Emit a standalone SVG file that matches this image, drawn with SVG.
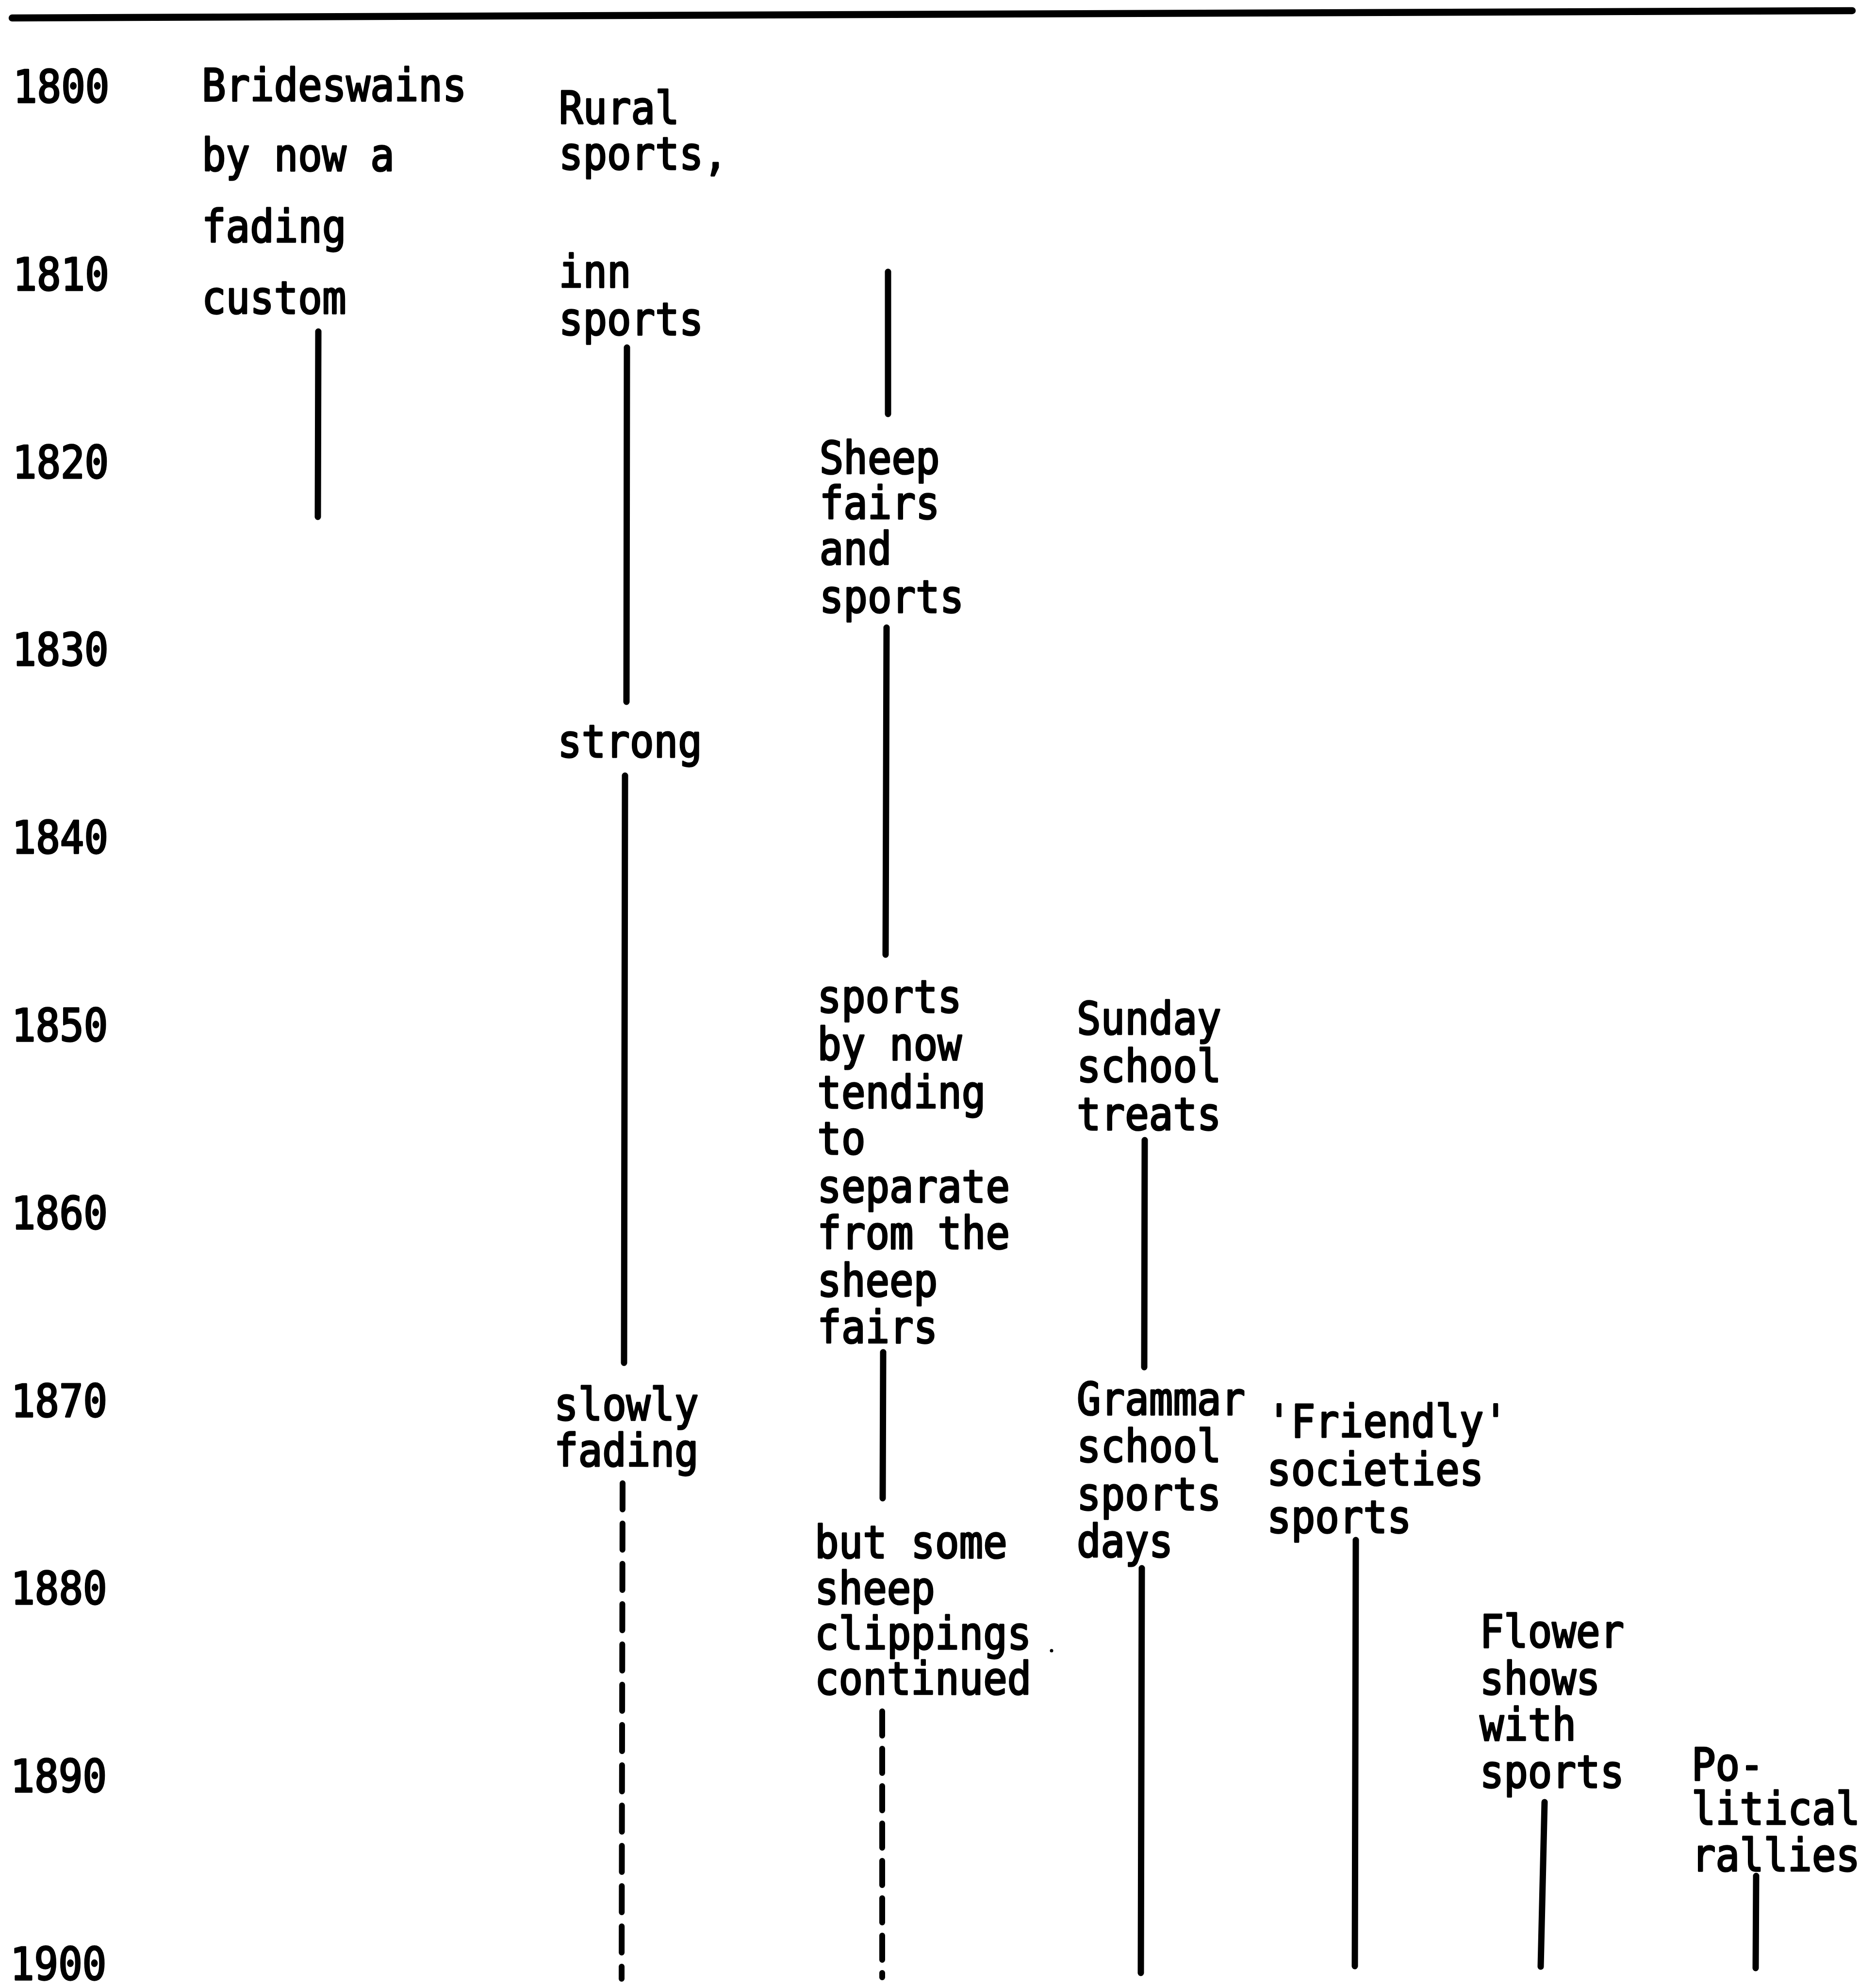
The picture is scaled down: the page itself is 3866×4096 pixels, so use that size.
<svg xmlns="http://www.w3.org/2000/svg" width="3866" height="4096" viewBox="0 0 3866 4096">
  <style>
    text { font-family: "DejaVu Sans Mono", "Liberation Mono", monospace; font-size: 93px; fill: #000; stroke: #000; stroke-width: 3.5; stroke-linejoin: round; }
    .bar { stroke: #000; stroke-width: 13; stroke-linecap: round; fill: none; }
    .fade { stroke: #000; stroke-width: 12; stroke-linecap: round; fill: none; }
    .rule { stroke: #000; stroke-width: 14.5; stroke-linecap: round; fill: none; }
  </style>
  <rect width="3866" height="4096" fill="#fff"/>

  <!-- heading rule -->
  <line class="rule" x1="25" y1="37" x2="3817" y2="22"/>

  <!-- decade axis (text narrowed to the typewriter width) -->
  <g id="years" transform="scale(0.886 1)">
    <text x="30.5" y="211">1800</text>
    <text x="29.8" y="598">1810</text>
    <text x="29.1" y="985">1820</text>
    <text x="28.5" y="1371">1830</text>
    <text x="27.8" y="1758">1840</text>
    <text x="27.1" y="2145">1850</text>
    <text x="26.4" y="2532">1860</text>
    <text x="25.7" y="2919">1870</text>
    <text x="25.1" y="3305">1880</text>
    <text x="24.4" y="3692">1890</text>
    <text x="23.7" y="4079">1900</text>
  </g>

  <!-- column 1 -->
  <g id="brideswains" transform="scale(0.886 1)">
    <text x="469.5" y="208">Brideswains</text>
    <text x="469.5" y="352">by now a</text>
    <text x="469.5" y="499">fading</text>
    <text x="469.5" y="646">custom</text>
  </g>

  <!-- column 2 -->
  <g id="rural-sports" transform="scale(0.886 1)">
    <text x="1300" y="255">Rural</text>
    <text x="1300" y="349">sports,</text>
    <text x="1300" y="592">inn</text>
    <text x="1300" y="690">sports</text>
  </g>
  <g id="rural-strong" transform="scale(0.886 1)">
    <text x="1297" y="1560">strong</text>
  </g>
  <g id="rural-fading" transform="scale(0.886 1)">
    <text x="1289" y="2926">slowly</text>
    <text x="1289" y="3021">fading</text>
  </g>

  <!-- column 3 -->
  <g id="sheep-fairs" transform="scale(0.886 1)">
    <text x="1906" y="976">Sheep</text>
    <text x="1906" y="1069">fairs</text>
    <text x="1906" y="1163">and</text>
    <text x="1906" y="1262">sports</text>
  </g>
  <g id="sports-separate" transform="scale(0.886 1)">
    <text x="1901" y="2086">sports</text>
    <text x="1901" y="2184">by now</text>
    <text x="1901" y="2283">tending</text>
    <text x="1901" y="2378">to</text>
    <text x="1901" y="2477">separate</text>
    <text x="1901" y="2573">from the</text>
    <text x="1901" y="2671">sheep</text>
    <text x="1901" y="2767">fairs</text>
  </g>
  <g id="sheep-clippings" transform="scale(0.886 1)">
    <text x="1895" y="3210">but some</text>
    <text x="1895" y="3305">sheep</text>
    <text x="1895" y="3398">clippings</text>
    <text x="1895" y="3491">continued</text>
  </g>

  <!-- column 4 -->
  <g id="sunday-school" transform="scale(0.886 1)">
    <text x="2504.5" y="2131">Sunday</text>
    <text x="2504.5" y="2229">school</text>
    <text x="2504.5" y="2328">treats</text>
  </g>
  <g id="grammar-school" transform="scale(0.886 1)">
    <text x="2504.5" y="2915">Grammar</text>
    <text x="2504.5" y="3012">school</text>
    <text x="2504.5" y="3111">sports</text>
    <text x="2504.5" y="3208">days</text>
  </g>

  <!-- column 5 -->
  <g id="friendly-societies" transform="scale(0.886 1)">
    <text x="2947" y="2961">'Friendly'</text>
    <text x="2947" y="3060">societies</text>
    <text x="2947" y="3158">sports</text>
  </g>

  <!-- column 6 -->
  <g id="flower-shows" transform="scale(0.886 1)">
    <text x="3442" y="3394">Flower</text>
    <text x="3442" y="3491">shows</text>
    <text x="3442" y="3586">with</text>
    <text x="3442" y="3683">sports</text>
  </g>

  <!-- column 7 -->
  <g id="political-rallies" transform="scale(0.886 1)">
    <text x="3934.5" y="3668">Po-</text>
    <text x="3934.5" y="3759">litical</text>
    <text x="3934.5" y="3855">rallies</text>
  </g>

  <!-- duration bars -->
  <g id="connectors">
    <line class="bar" x1="656" y1="683" x2="655" y2="1065"/>
    <line class="bar" x1="1292" y1="716" x2="1291" y2="1446"/>
    <line class="bar" x1="1288" y1="1598" x2="1286" y2="2808"/>
    <line class="fade" x1="1283" y1="3056" x2="1281" y2="4077" stroke-dasharray="54 29"/>
    <line class="bar" x1="1830" y1="560" x2="1830" y2="853"/>
    <line class="bar" x1="1827" y1="1293" x2="1825" y2="1967"/>
    <line class="bar" x1="1820" y1="2786" x2="1819" y2="3087"/>
    <line class="fade" x1="1818" y1="3526" x2="1818" y2="4074" stroke-dasharray="50 27"/>
    <line class="bar" x1="2359" y1="2349" x2="2358" y2="2817"/>
    <line class="bar" x1="2353" y1="3231" x2="2351" y2="4065"/>
    <line class="bar" x1="2794" y1="3173" x2="2792" y2="4051"/>
    <line class="bar" x1="3183" y1="3713" x2="3175" y2="4052"/>
    <line class="bar" x1="3619" y1="3865" x2="3618" y2="4055"/>
  </g>

  <circle cx="2167" cy="3401" r="3.5" fill="#000"/>
</svg>
